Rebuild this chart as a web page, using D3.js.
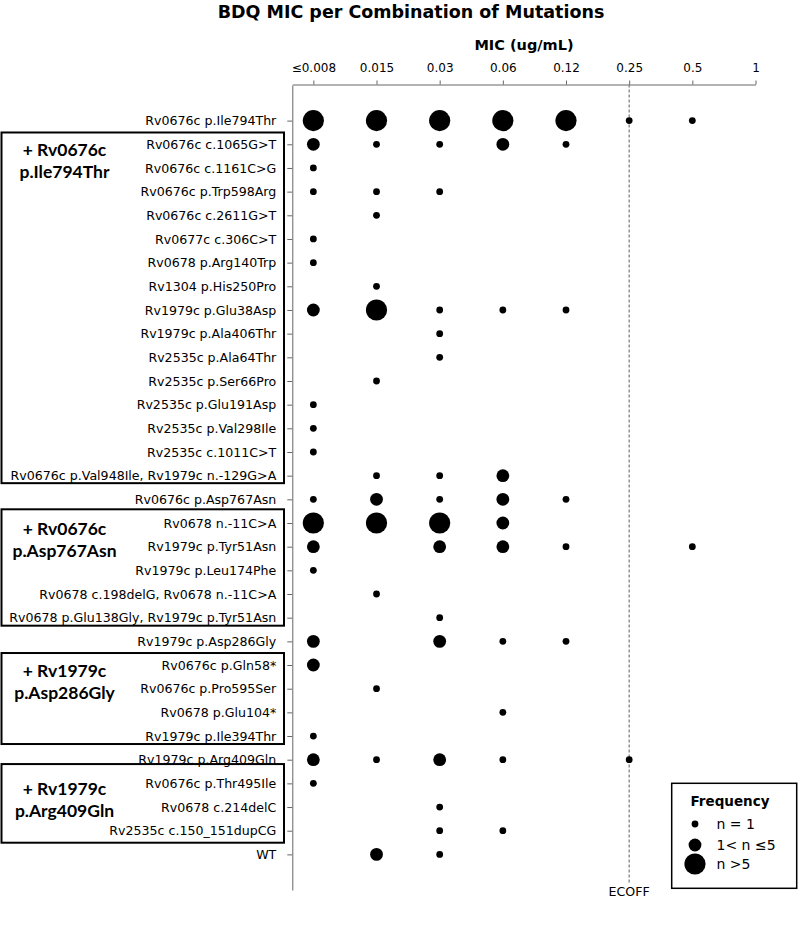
<!DOCTYPE html>
<html><head><meta charset="utf-8">
<script src="https://cdn.jsdelivr.net/npm/d3@7"></script>
<style>body{margin:0;background:#fff}svg{display:block}</style>
</head><body>
<svg id="c" width="800" height="926"></svg>
<script>
const micLabels = ["≤0.008","0.015","0.03","0.06","0.12","0.25","0.5","1"];
const rowLabels = [
 "Rv0676c p.Ile794Thr","Rv0676c c.1065G>T","Rv0676c c.1161C>G","Rv0676c p.Trp598Arg",
 "Rv0676c c.2611G>T","Rv0677c c.306C>T","Rv0678 p.Arg140Trp","Rv1304 p.His250Pro",
 "Rv1979c p.Glu38Asp","Rv1979c p.Ala406Thr","Rv2535c p.Ala64Thr","Rv2535c p.Ser66Pro",
 "Rv2535c p.Glu191Asp","Rv2535c p.Val298Ile","Rv2535c c.1011C>T","Rv0676c p.Val948Ile, Rv1979c n.-129G>A",
 "Rv0676c p.Asp767Asn","Rv0678 n.-11C>A","Rv1979c p.Tyr51Asn","Rv1979c p.Leu174Phe",
 "Rv0678 c.198delG, Rv0678 n.-11C>A","Rv0678 p.Glu138Gly, Rv1979c p.Tyr51Asn","Rv1979c p.Asp286Gly","Rv0676c p.Gln58*",
 "Rv0676c p.Pro595Ser","Rv0678 p.Glu104*","Rv1979c p.Ile394Thr","Rv1979c p.Arg409Gln",
 "Rv0676c p.Thr495Ile","Rv0678 c.214delC","Rv2535c c.150_151dupCG","WT"];
// frequency class per MIC column: 0 none, 1 n=1, 2 1<n<=5, 3 n>5
const freqClass = [
 [3,3,3,3,3,1,1,0],[2,1,1,2,1,0,0,0],[1,0,0,0,0,0,0,0],[1,1,1,0,0,0,0,0],
 [0,1,0,0,0,0,0,0],[1,0,0,0,0,0,0,0],[1,0,0,0,0,0,0,0],[0,1,0,0,0,0,0,0],
 [2,3,1,1,1,0,0,0],[0,0,1,0,0,0,0,0],[0,0,1,0,0,0,0,0],[0,1,0,0,0,0,0,0],
 [1,0,0,0,0,0,0,0],[1,0,0,0,0,0,0,0],[1,0,0,0,0,0,0,0],[0,1,1,2,0,0,0,0],
 [1,2,1,2,1,0,0,0],[3,3,3,2,0,0,0,0],[2,0,2,2,1,0,1,0],[1,0,0,0,0,0,0,0],
 [0,1,0,0,0,0,0,0],[0,0,1,0,0,0,0,0],[2,0,2,1,1,0,0,0],[2,0,0,0,0,0,0,0],
 [0,1,0,0,0,0,0,0],[0,0,0,1,0,0,0,0],[1,0,0,0,0,0,0,0],[2,1,2,1,0,1,0,0],
 [1,0,0,0,0,0,0,0],[0,0,1,0,0,0,0,0],[0,0,1,1,0,0,0,0],[0,2,1,0,0,0,0,0]];
const groupLine1 = ["+ Rv0676c","+ Rv0676c","+ Rv1979c","+ Rv1979c"];
const groupLine2 = ["p.Ile794Thr","p.Asp767Asn","p.Asp286Gly","p.Arg409Gln"];
const groupFirst = [1,17,23,28];
const groupLast  = [15,21,26,30];
const legendLabels = ["n = 1","1< n ≤5","n >5"];
const ecoffIndex = 5;

const svg = d3.select("#c");
const FONT = "DejaVu Sans, sans-serif";
const axisCol = "#666";

const x = d3.scaleLinear().domain([-1/3, 7]).range([292.3, 755.5]);
const y = d3.scalePoint().domain(d3.range(rowLabels.length)).range([85, 890]).padding(1.505);
const r = d3.scaleOrdinal().domain([1,2,3]).range([3.4,6.4,10.6]);

// title
svg.append("text").attr("x",411).attr("y",18).attr("text-anchor","middle")
  .attr("font-family",FONT).attr("font-weight","bold").attr("font-size",17.5).text("BDQ MIC per Combination of Mutations");
svg.append("text").attr("x",524).attr("y",50).attr("text-anchor","middle")
  .attr("font-family",FONT).attr("font-weight","bold").attr("font-size",14.5).text("MIC (ug/mL)");

// top axis
const xAxis = d3.axisTop(x).tickValues(d3.range(8)).tickFormat(i => micLabels[i]).tickSize(4).tickSizeOuter(0).tickPadding(9);
const gx = svg.append("g").attr("transform","translate(0,84.5)").call(xAxis);
gx.selectAll("text").attr("font-family",FONT).attr("font-size",12).attr("fill","#000");
gx.selectAll("line,path").attr("stroke",axisCol);

// left axis
const yAxis = d3.axisLeft(y).tickFormat(i => rowLabels[i]).tickSize(5).tickSizeOuter(0).tickPadding(11);
const gy = svg.append("g").attr("transform","translate(292.3,0)").call(yAxis);
gy.selectAll("text").attr("font-family",FONT).attr("font-size",12.6).attr("fill","#000");
gy.selectAll("line,path").attr("stroke",axisCol);

// ECOFF line
svg.append("line").attr("x1",x(ecoffIndex)).attr("x2",x(ecoffIndex)).attr("y1",84.5).attr("y2",884)
  .attr("stroke","#777").attr("stroke-width",1.2).attr("stroke-dasharray","3,2");
svg.append("text").attr("x",x(ecoffIndex)).attr("y",896).attr("text-anchor","middle")
  .attr("font-family",FONT).attr("font-size",12.6).text("ECOFF");

// dots
const pts = [];
freqClass.forEach((row,i) => row.forEach((c,j) => { if (c>0) pts.push({i,j,c}); }));
svg.append("g").selectAll("circle").data(pts).join("circle")
  .attr("cx",d => x(d.j)).attr("cy",d => y(d.i)).attr("r",d => r(d.c)).attr("fill","#000");

// group boxes
const padTop = [11.8,13.7,12,19.3], padBot = [7.5,8,8,12];
groupFirst.forEach((f,k) => {
  const y0 = y(f) - padTop[k], y1 = y(groupLast[k]) + padBot[k];
  svg.append("rect").attr("x",1.5).attr("y",y0).attr("width",282.5).attr("height",y1-y0)
    .attr("fill","none").attr("stroke","#000").attr("stroke-width",2);
  svg.append("text").attr("x",64.5).attr("y",y(f)+11.5).attr("text-anchor","middle")
    .attr("font-family","Lato, sans-serif").attr("font-weight","bold").attr("font-size",17.5).text(groupLine1[k]);
  svg.append("text").attr("x",64.5).attr("y",y(f)+33.5).attr("text-anchor","middle")
    .attr("font-family","Lato, sans-serif").attr("font-weight","bold").attr("font-size",17.5).text(groupLine2[k]);
});

// legend
svg.append("rect").attr("x",671.7).attr("y",783.3).attr("width",125).attr("height",105)
  .attr("fill","#fff").attr("stroke","#000").attr("stroke-width",1.5);
svg.append("text").attr("x",690.5).attr("y",805.5).attr("font-family",FONT).attr("font-weight","bold")
  .attr("font-size",13.5).text("Frequency");
const legY = [824,845,864];
legendLabels.forEach((lab,k) => {
  svg.append("circle").attr("cx",695).attr("cy",legY[k]).attr("r",r(k+1)).attr("fill","#000");
  svg.append("text").attr("x",716.5).attr("y",legY[k]+5).attr("font-family",FONT).attr("font-size",14).text(lab);
});
</script>
</body></html>
